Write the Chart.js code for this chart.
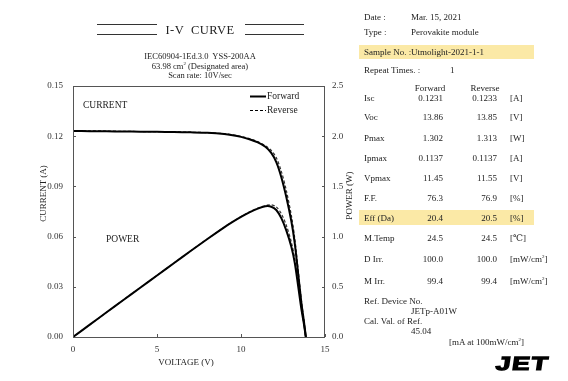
<!DOCTYPE html>
<html>
<head>
<meta charset="utf-8">
<script src="https://cdn.jsdelivr.net/npm/chart.js@4.4.1/dist/chart.umd.min.js"></script>
<style>
  html, body { margin:0; padding:0; background:#fff; }
  body { width:568px; height:381px; position:relative; overflow:hidden; font-family:"Liberation Serif", "DejaVu Serif", serif; color:#222; }
  #wrap { position:absolute; left:0; top:0; width:355px; height:381px; }
  .t { position:absolute; white-space:nowrap; font-size:9px; line-height:11px; }
  .r { text-align:right; }
  .hl { position:absolute; background:#fbe9a6; }
  .dl { position:absolute; height:0; border-top:1px solid #333; }
</style>
</head>
<body>
<div id="wrap"><canvas id="c" width="355" height="381"></canvas></div>

<!-- title block -->
<div class="dl" style="left:97px;top:24px;width:60px;"></div>
<div class="dl" style="left:97px;top:34px;width:60px;"></div>
<div class="dl" style="left:245px;top:24px;width:59px;"></div>
<div class="dl" style="left:245px;top:34px;width:59px;"></div>
<div class="t" style="left:160px;top:22px;width:80px;text-align:center;font-size:12.5px;line-height:16px;letter-spacing:0.4px;">I-V&nbsp;&nbsp;CURVE</div>
<div class="t" style="left:100px;top:51px;width:200px;text-align:center;font-size:8.5px;line-height:10px;">IEC60904-1Ed.3.0&nbsp; YSS-200AA</div>
<div class="t" style="left:100px;top:61px;width:200px;text-align:center;font-size:8.5px;line-height:10px;">63.98 cm<sup style="font-size:5px;line-height:0;">2</sup> (Designated area)</div>
<div class="t" style="left:100px;top:70px;width:200px;text-align:center;font-size:8.5px;line-height:10px;">Scan rate: 10V/sec</div>

<!-- axis titles & in-plot labels -->
<div class="t" style="left:-7px;top:188px;width:100px;text-align:center;transform:rotate(-90deg);font-size:9px;">CURRENT (A)</div>
<div class="t" style="left:299px;top:190px;width:100px;text-align:center;transform:rotate(-90deg);font-size:9px;">POWER (W)</div>
<div class="t" style="left:136px;top:357px;width:100px;text-align:center;font-size:9px;">VOLTAGE (V)</div>
<div class="t" style="left:83px;top:100px;font-size:9.5px;">CURRENT</div>
<div class="t" style="left:106px;top:234px;font-size:9.5px;">POWER</div>

<!-- info table -->
<div class="hl" style="left:359px;top:45px;width:175px;height:14px;"></div>
<div class="hl" style="left:359px;top:210px;width:175px;height:15px;"></div>
<div id="info"></div>

<div class="t" style="left:496px;top:353px;font-family:'Liberation Sans','DejaVu Sans',sans-serif;font-weight:900;font-size:19px;line-height:22px;letter-spacing:1px;transform:scaleX(1.4) skewX(-6deg);transform-origin:left center;color:#000;-webkit-text-stroke:1.2px #000;">JET</div>

<script>
// ---------- data ----------
const volts        = [0, 1, 2, 3, 4, 5, 6, 7, 8, 9, 9.5, 10, 10.5, 11, 11.45, 11.8, 12.1, 12.4, 12.7, 13.0, 13.2, 13.4, 13.6, 13.75, 13.86];
const fwdCurrent   = [0.1231, 0.1230, 0.1229, 0.1228, 0.1227, 0.1226, 0.1225, 0.1223, 0.1220, 0.1213, 0.1206, 0.1196, 0.1182, 0.1163, 0.1137, 0.1100, 0.1045, 0.0955, 0.0835, 0.0690, 0.0560, 0.0380, 0.0200, 0.0090, 0.0000];
const fwdPower     = [0, 0.123, 0.246, 0.368, 0.491, 0.613, 0.735, 0.856, 0.976, 1.092, 1.146, 1.196, 1.241, 1.279, 1.302, 1.298, 1.265, 1.184, 1.060, 0.897, 0.739, 0.509, 0.272, 0.124, 0];
const revVolts     = [0, 1, 2, 3, 4, 5, 6, 7, 8, 9, 9.5, 10, 10.5, 11, 11.55, 11.8, 12.1, 12.4, 12.7, 13.0, 13.2, 13.4, 13.6, 13.75, 13.85];
const revCurrent   = [0.1233, 0.1232, 0.1231, 0.1229, 0.1228, 0.1227, 0.1226, 0.1224, 0.1221, 0.1215, 0.1208, 0.1199, 0.1186, 0.1168, 0.1137, 0.1115, 0.1072, 0.0990, 0.0875, 0.0725, 0.0590, 0.0405, 0.0215, 0.0095, 0.0000];
const revPower     = [0, 0.123, 0.246, 0.369, 0.491, 0.614, 0.736, 0.857, 0.977, 1.094, 1.148, 1.199, 1.245, 1.285, 1.313, 1.316, 1.297, 1.228, 1.111, 0.943, 0.779, 0.543, 0.292, 0.131, 0];
const currentTicks = [0, 0.03, 0.06, 0.09, 0.12, 0.15];
const powerTicks   = [0, 0.5, 1.0, 1.5, 2.0, 2.5];
const voltTicks    = [0, 5, 10, 15];

const infoTop = [
  ["Date :", "Mar. 15, 2021", 17],
  ["Type :", "Perovakite module", 32],
  ["Sample No. :", "Utmolight-2021-1-1", 52],
];
const rowLabels = ["Isc", "Voc", "Pmax", "Ipmax", "Vpmax", "F.F.", "Eff (Da)", "M.Temp", "D Irr.", "M Irr."];
const fwdVals   = ["0.1231", "13.86", "1.302", "0.1137", "11.45", "76.3", "20.4", "24.5", "100.0", "99.4"];
const revVals   = ["0.1233", "13.85", "1.313", "0.1137", "11.55", "76.9", "20.5", "24.5", "100.0", "99.4"];
const units     = ["[A]", "[V]", "[W]", "[A]", "[V]", "[%]", "[%]", "[\u2103]", "[mW/cm<sup style='font-size:5px;line-height:0'>2</sup>]", "[mW/cm<sup style='font-size:5px;line-height:0'>2</sup>]"];
const rowY      = [98, 117, 138, 158, 178, 198, 218, 238, 259, 281];

// ---------- info table ----------
const info = document.getElementById('info');
function put(x, y, html, cls, extra) {
  const d = document.createElement('div');
  d.className = 't' + (cls ? ' ' + cls : '');
  d.style.left = x + 'px';
  d.style.top = (y - 5.5) + 'px';
  if (extra) Object.assign(d.style, extra);
  d.innerHTML = html;
  info.appendChild(d);
}
infoTop.forEach(r => { put(364, r[2], r[0]); put(411, r[2], r[1]); });
put(364, 70, "Repeat Times. :"); put(450, 70, "1");
put(400, 88, "Forward", null, {width:'60px', textAlign:'center'});
put(455, 88, "Reverse", null, {width:'60px', textAlign:'center'});
rowLabels.forEach((l, i) => {
  put(364, rowY[i], l);
  put(383, rowY[i], fwdVals[i], 'r', {width:'60px'});
  put(437, rowY[i], revVals[i], 'r', {width:'60px'});
  put(510, rowY[i], units[i]);
});
put(364, 301, "Ref. Device No.");
put(411, 311, "JETp-A01W");
put(364, 321, "Cal. Val. of Ref.");
put(411, 331, "45.04");
put(449, 342, "[mA at 100mW/cm<sup style='font-size:5px;line-height:0'>2</sup>]");

// ---------- chart ----------
const pts = (xs, ys) => xs.map((x, i) => ({x: x, y: ys[i]}));
const FONT = {family: "'Liberation Serif', 'DejaVu Serif', serif", size: 9};
const AX = '#555';

const decor = {
  id: 'decor',
  afterDraw(chart) {
    const {ctx, chartArea: a, scales} = chart;
    ctx.save();
    ctx.strokeStyle = AX;
    ctx.lineWidth = 1;
    ctx.strokeRect(a.left + 0.5, a.top + 0.5, a.right - a.left - 1, a.bottom - a.top);
    ctx.beginPath();
    currentTicks.forEach(v => { const y = Math.round(scales.y.getPixelForValue(v)) + 0.5; ctx.moveTo(a.left, y); ctx.lineTo(a.left + 3, y); });
    powerTicks.forEach(v => { const y = Math.round(scales.y1.getPixelForValue(v)) + 0.5; ctx.moveTo(a.right - 3, y); ctx.lineTo(a.right, y); });
    voltTicks.forEach(v => { const x = Math.round(scales.x.getPixelForValue(v)) + 0.5; ctx.moveTo(x, a.bottom); ctx.lineTo(x, a.bottom - 3); });
    ctx.stroke();
    // legend
    ctx.fillStyle = '#222';
    ctx.font = "9.5px 'Liberation Serif', serif";
    ctx.textBaseline = 'middle';
    ctx.strokeStyle = '#000';
    ctx.lineWidth = 2;
    ctx.setLineDash([]);
    ctx.beginPath(); ctx.moveTo(250, 96.5); ctx.lineTo(266, 96.5); ctx.stroke();
    ctx.fillText('Forward', 267, 96.5);
    ctx.lineWidth = 1.2;
    ctx.setLineDash([3, 2]);
    ctx.beginPath(); ctx.moveTo(250, 110.5); ctx.lineTo(266, 110.5); ctx.stroke();
    ctx.setLineDash([]);
    ctx.fillText('Reverse', 267, 110);
    ctx.restore();
  }
};

new Chart(document.getElementById('c'), {
  type: 'line',
  data: {
    datasets: [
      {label: 'Forward current', data: pts(volts, fwdCurrent), yAxisID: 'y', borderColor: '#000', borderWidth: 2, pointRadius: 0, tension: 0.3, order: 1},
      {label: 'Reverse current', data: pts(revVolts, revCurrent), yAxisID: 'y', borderColor: '#333', borderWidth: 1.2, borderDash: [3, 2], pointRadius: 0, tension: 0.3, order: 2},
      {label: 'Forward power', data: pts(volts, fwdPower), yAxisID: 'y1', borderColor: '#000', borderWidth: 2, pointRadius: 0, tension: 0.3, order: 1},
      {label: 'Reverse power', data: pts(revVolts, revPower), yAxisID: 'y1', borderColor: '#333', borderWidth: 1.2, borderDash: [3, 2], pointRadius: 0, tension: 0.3, order: 2}
    ]
  },
  options: {
    responsive: false,
    animation: false,
    devicePixelRatio: 1,
    layout: {padding: {top: 86, left: 0, right: 0, bottom: 0}},
    plugins: {legend: {display: false}, tooltip: {enabled: false}},
    scales: {
      x: {
        type: 'linear', min: 0, max: 15,
        afterBuildTicks: s => { s.ticks = voltTicks.map(v => ({value: v})); },
        afterFit: s => { s.height = 44; },
        grid: {display: false, drawTicks: false},
        border: {display: false},
        ticks: {color: '#333', font: FONT, padding: 7, maxRotation: 0, callback: v => String(v)}
      },
      y: {
        position: 'left', min: 0, max: 0.15,
        afterBuildTicks: s => { s.ticks = currentTicks.map(v => ({value: v})); },
        afterFit: s => { s.width = 73; },
        grid: {display: false, drawTicks: false},
        border: {display: false},
        ticks: {color: '#333', font: FONT, padding: 10, callback: v => Number(v).toFixed(2)}
      },
      y1: {
        position: 'right', min: 0, max: 2.5,
        afterBuildTicks: s => { s.ticks = powerTicks.map(v => ({value: v})); },
        afterFit: s => { s.width = 30; },
        grid: {display: false, drawTicks: false},
        border: {display: false},
        ticks: {color: '#333', font: FONT, padding: 7, callback: v => Number(v).toFixed(1)}
      }
    }
  },
  plugins: [decor]
});
</script>
</body>
</html>
